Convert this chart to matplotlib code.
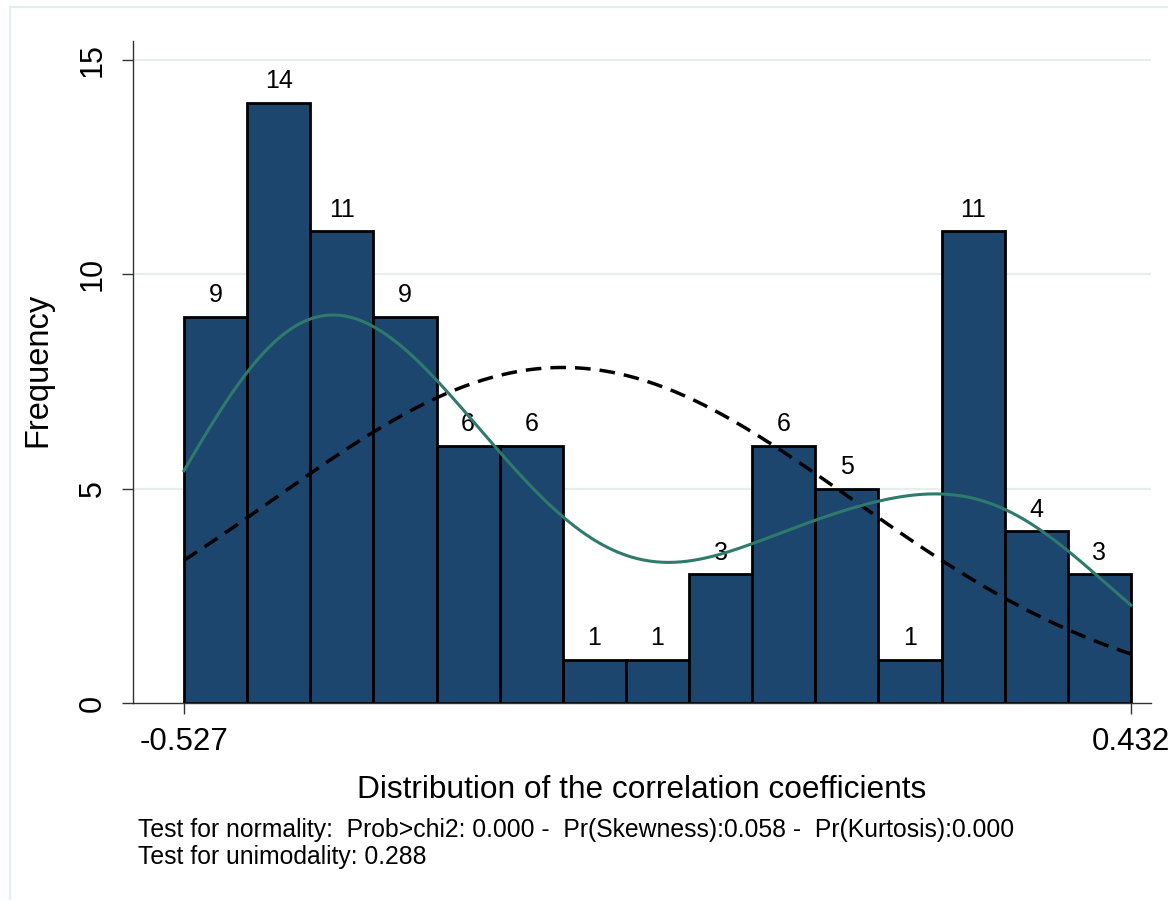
import numpy as np
import matplotlib.pyplot as plt
from matplotlib.patches import Rectangle

plt.rcParams['font.family'] = ['Liberation Sans', 'DejaVu Sans']

# histogram of the correlation coefficients
x_min, x_max = -0.527, 0.432
counts = [9, 14, 11, 9, 6, 6, 1, 1, 3, 6, 5, 1, 11, 4, 3]
kde_bandwidth = 0.113
y_ticks = [0, 5, 10, 15]
x_ticks = [-0.527, 0.432]
x_title = 'Distribution of the correlation coefficients'
y_title = 'Frequency'
note_1 = 'Test for normality:  Prob>chi2: 0.000 -  Pr(Skewness):0.058 -  Pr(Kurtosis):0.000'
note_2 = 'Test for unimodality: 0.288'

counts = np.array(counts)
n_bins = len(counts)
edges = np.linspace(x_min, x_max, n_bins + 1)
width = edges[1] - edges[0]
mids = edges[:-1] + width / 2
n = counts.sum()

# normal curve fitted to the binned data, scaled to frequency
mu = np.sum(counts * mids) / n
sd = np.sqrt(np.sum(counts * (mids - mu) ** 2) / n)
xs = np.linspace(x_min, x_max, 300)
normal = n * width * np.exp(-0.5 * ((xs - mu) / sd) ** 2) / (sd * np.sqrt(2 * np.pi))

# kernel density of the binned data, scaled to frequency
bw = kde_bandwidth
z = (xs[:, None] - mids[None, :]) / bw
kde = width * np.sum(counts * np.exp(-0.5 * z ** 2), axis=1) / (bw * np.sqrt(2 * np.pi))

fig = plt.figure(figsize=(11.68, 9), dpi=100)
ax = fig.add_axes([133 / 1168, 1 - 703 / 900, 1018 / 1168, 662 / 900])

bars = ax.bar(edges[:-1], counts, width=width, align='edge',
              color='#1c466e', edgecolor='black', linewidth=2, zorder=2)
ax.bar_label(bars, padding=7, fontsize=18)

ax.plot(xs, normal, color='black', lw=2.5, dashes=(4.5, 2.6), zorder=3)
ax.plot(xs, kde, color='#2e7a6c', lw=2.2, zorder=4)

ax.set_xlim(x_min - 51 / 987.5, x_max + 20 / 987.5)
ax.set_ylim(0, 15.44)
ax.set_yticks(y_ticks)
ax.set_yticklabels([str(t) for t in y_ticks], rotation=90, va='center', fontsize=22)
ax.set_xticks(x_ticks)
ax.set_xticklabels([f'{t:.3f}' for t in x_ticks], fontsize=22.5)
ax.tick_params(axis='both', direction='out', length=8, width=1, color='#333333')
ax.tick_params(axis='y', pad=10)
ax.tick_params(axis='x', pad=9)

for t in y_ticks[1:]:
    ax.axhline(t, color='#e6eef0', lw=1.6, zorder=0)

for s in ['top', 'right']:
    ax.spines[s].set_visible(False)
for s in ['left', 'bottom']:
    ax.spines[s].set_linewidth(1)
    ax.spines[s].set_color('#333333')

fig.text(38 / 1168, 1 - 370 / 900, y_title, rotation=90, ha='center', va='center', fontsize=23.5)
fig.text(642 / 1168, 1 - 790 / 900, x_title, ha='center', va='center', fontsize=22.8)
fig.text(138 / 1168, 1 - 830 / 900, note_1, ha='left', va='center', fontsize=17.8)
fig.text(138 / 1168, 1 - 857 / 900, note_2, ha='left', va='center', fontsize=17.8)

fig.patches.append(Rectangle((10 / 1168, -0.1), 2, 1.1 - 7 / 900, transform=fig.transFigure,
                             fill=False, edgecolor='#e4eef0', lw=1.5))

fig.savefig('out.png', dpi=100)
